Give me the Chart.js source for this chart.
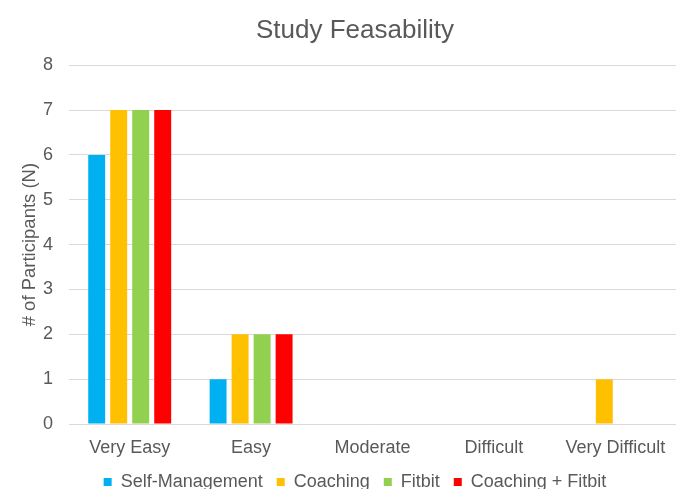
<!DOCTYPE html>
<html>
<head>
<meta charset="utf-8">
<script src="https://cdn.jsdelivr.net/npm/chart.js@4"></script>
<style>
  html, body { margin: 0; padding: 0; background: #ffffff; }
  #wrap { width: 686px; height: 489px; }
</style>
</head>
<body>
<div id="wrap"><canvas id="chart" width="686" height="489"></canvas></div>
<script>
// Ease-of-participation ratings, counts per study arm
const categories = ['Very Easy', 'Easy', 'Moderate', 'Difficult', 'Very Difficult'];
const selfManagement = [6, 1, 0, 0, 0];
const coaching = [7, 2, 0, 0, 1];
const fitbit = [7, 2, 0, 0, 0];
const coachingFitbit = [7, 2, 0, 0, 0];
const yTicks = [0, 1, 2, 3, 4, 5, 6, 7, 8];

const grey = '#595959';
const font = 'Liberation Sans, Arial, Helvetica, sans-serif';

new Chart(document.getElementById('chart'), {
  type: 'bar',
  data: {
    labels: categories,
    datasets: [
      { label: 'Self-Management', data: selfManagement, backgroundColor: '#00B0F0' },
      { label: 'Coaching', data: coaching, backgroundColor: '#FFC000' },
      { label: 'Fitbit', data: fitbit, backgroundColor: '#92D050' },
      { label: 'Coaching + Fitbit', data: coachingFitbit, backgroundColor: '#FF0000' }
    ]
  },
  options: {
    responsive: false,
    animation: false,
    layout: { padding: { left: 34, right: 10, top: 0, bottom: -12 } },
    datasets: { bar: { categoryPercentage: 0.725, barPercentage: 0.77 } },
    plugins: {
      title: {
        display: true,
        text: 'Study Feasability',
        color: grey,
        font: { family: font, size: 26, weight: 'normal' },
        padding: { top: 15, bottom: 19 }
      },
      legend: {
        position: 'bottom',
        labels: {
          color: grey,
          font: { family: font, size: 18 },
          boxWidth: 8,
          boxHeight: 8,
          padding: 14
        }
      },
      tooltip: { enabled: false }
    },
    scales: {
      x: {
        afterFit: (axis) => { axis.height = 35; },
        grid: { display: false, drawTicks: false },
        border: { display: false },
        ticks: {
          color: grey,
          font: { family: font, size: 18 },
          padding: 13,
          maxRotation: 0,
          autoSkip: false
        }
      },
      y: {
        min: 0,
        max: 8,
        afterBuildTicks: (axis) => { axis.ticks = yTicks.map(v => ({ value: v })); },
        afterFit: (axis) => { axis.width = 35; },
        grid: { color: '#D9D9D9', drawTicks: false, lineWidth: 1 },
        border: { display: false },
        ticks: {
          color: grey,
          font: { family: font, size: 18 },
          padding: 16
        },
        title: {
          display: true,
          text: '# of Participants (N)',
          color: grey,
          font: { family: font, size: 18.5 },
          padding: { top: -15, bottom: 0 }
        }
      }
    }
  }
});
</script>
</body>
</html>
